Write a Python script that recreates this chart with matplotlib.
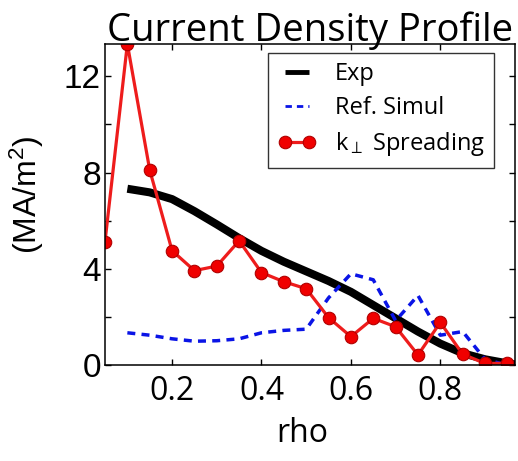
import numpy as np
import matplotlib
matplotlib.use('Agg')
import matplotlib.pyplot as plt

# data
rho_red = [0.05, 0.10, 0.15, 0.20, 0.25, 0.30, 0.35, 0.40, 0.45, 0.50,
           0.55, 0.60, 0.65, 0.70, 0.75, 0.80, 0.85, 0.90, 0.95]
j_spread = [5.13, 13.34, 8.11, 4.76, 3.93, 4.12, 5.17, 3.85, 3.47, 3.18,
            1.98, 1.19, 1.95, 1.60, 0.43, 1.78, 0.46, 0.08, 0.08]

rho_exp = [0.10, 0.15, 0.20, 0.25, 0.30, 0.35, 0.40, 0.45, 0.50, 0.55,
           0.60, 0.65, 0.70, 0.75, 0.80, 0.85, 0.90, 0.95, 0.97]
j_exp = [7.33, 7.18, 6.90, 6.40, 5.85, 5.28, 4.75, 4.30, 3.90, 3.50,
         3.05, 2.50, 1.95, 1.40, 0.90, 0.50, 0.25, 0.08, 0.03]

rho_ref = [0.10, 0.15, 0.20, 0.25, 0.30, 0.35, 0.40, 0.45, 0.50, 0.55,
           0.60, 0.65, 0.70, 0.75, 0.80, 0.85, 0.90, 0.95]
j_ref = [1.35, 1.25, 1.10, 1.00, 1.02, 1.10, 1.35, 1.45, 1.50, 2.80,
         3.80, 3.55, 1.85, 2.90, 1.25, 1.40, 0.25, 0.00]

xticks = [0.2, 0.4, 0.6, 0.8]
yticks = [0, 2, 4, 6, 8, 10, 12]
ylabels = ['0', '', '4', '', '8', '', '12']

plt.rcParams['mathtext.fontset'] = 'custom'
plt.rcParams['mathtext.rm'] = 'Liberation Sans'
plt.rcParams['mathtext.default'] = 'regular'

fig = plt.figure(figsize=(5.18, 4.61), dpi=100)
ax = fig.add_axes([105/518, 1-365.3/461, 410/518, (365.3-44)/461])

ax.plot(rho_exp, j_exp, '-', color='black', lw=5.8, label='Exp', solid_capstyle='butt')
ax.plot(rho_ref, j_ref, '--', color='#0a14e6', lw=2.5, dashes=(2.3, 1.8), label='Ref. Simul')
ax.plot(rho_red, j_spread, '-o', color='#ee1c1c', lw=2.3, ms=9,
        mfc='#f00000', mec='#b00000', mew=0.8, label=r'k$_\perp$ Spreading')

ax.set_xlim(0.05, 0.967)
ax.set_ylim(0, 13.34)
ax.set_xticks(xticks)
ax.set_xticklabels([str(t) for t in xticks], family='Open Sans', fontsize=23)
ax.set_yticks(yticks)
ax.set_yticklabels(ylabels, family='Liberation Sans', fontsize=24)
ax.tick_params(direction='in', top=True, right=True, length=4, width=1)
ax.tick_params(axis='x', pad=7)
ax.tick_params(axis='y', pad=3)
for s in ax.spines.values():
    s.set_linewidth(1.1)

ax.set_xlabel('rho', family='Open Sans', fontsize=23)
ax.xaxis.set_label_coords(0.48, -0.16)
ax.set_ylabel('(MA/m$^2$)', family='Liberation Sans', fontsize=23)
ax.yaxis.set_label_coords(-0.145, 0.53)
ax.set_title('Current Density Profile', family='Open Sans', fontsize=27.5, pad=2)

leg = ax.legend(loc='upper right', bbox_to_anchor=(0.949, 0.972), borderaxespad=0,
                prop={'family': 'Open Sans', 'size': 17}, fancybox=False,
                edgecolor='black', numpoints=2, handlelength=1.6,
                handletextpad=0.8, labelspacing=0.42, borderpad=0.4)
leg.get_frame().set_linewidth(1.0)
leg.get_lines()[0].set_linewidth(3.5)
leg.get_lines()[1].set_linewidth(2.0)

plt.savefig('out.png', dpi=100)
